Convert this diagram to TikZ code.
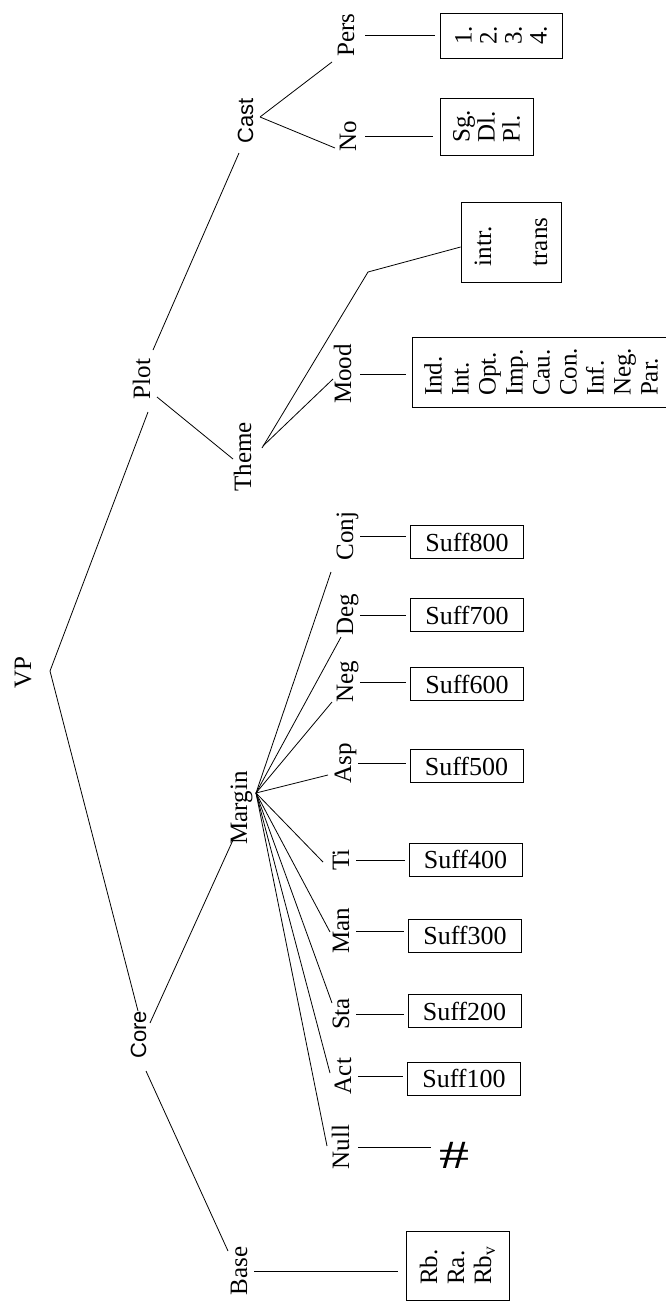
\documentclass[tikz,border=0pt]{standalone}
\usepackage{fontspec}
\usepackage{graphicx}
\setmainfont{Liberation Serif}
\newfontfamily\sansf{Liberation Sans}
\begin{document}
\begin{tikzpicture}[x=1pt,y=-1pt,
  lbl/.style={rotate=90, inner sep=2pt, text height=17pt, text depth=5pt, font=\fontsize{25}{25}\selectfont},
  lblsans/.style={lbl, font=\sansf\fontsize{22}{22}\selectfont},
  suff/.style={draw, line width=0.8pt, minimum width=113pt, minimum height=33pt, inner sep=0pt, font=\fontsize{26}{26}\selectfont},
  rbox/.style={draw, line width=0.8pt, rotate=90, inner sep=0pt, align=left},
  edge/.style={line width=0.8pt}]
\useasboundingbox (0,0) rectangle (666,1301);

% labels
\node[lbl] (vp) at (25,673) {VP};
\node[lbl] (plot) at (144,379) {Plot};
\node[lblsans] (core) at (140,1035) {Core};
\node[lblsans] (cast) at (247,121) {Cast};
\node[lbl] (theme) at (245,457) {Theme};
\node[lbl] (margin) at (241,808) {Margin};
\node[lbl] (base) at (241,1271) {Base};
\node[lbl] (pers) at (348,35) {Pers};
\node[lbl] (no) at (350,136) {No};
\node[lbl] (mood) at (345,374) {Mood};
\node[lbl] (conj) at (347,536) {Conj};
\node[lbl] (deg) at (347,615) {Deg};
\node[lbl] (neg) at (347,682) {Neg};
\node[lbl] (asp) at (345,763) {Asp};
\node[lbl] (ti) at (343,860) {Ti};
\node[lbl] (man) at (343,931) {Man};
\node[lbl] (sta) at (343,1014) {Sta};
\node[lbl] (act) at (345,1076) {Act};
\node[lbl] (null) at (343,1147) {Null};

% boxes
\node[rbox, minimum width=45pt, minimum height=122pt, font=\fontsize{25}{25}\selectfont] (persbox) at (501,35.5) {1.\\2.\\3.\\4.};
\node[rbox, minimum width=57pt, minimum height=93pt, font=\fontsize{25}{25}\selectfont] (nobox) at (486.5,126.5) {Sg.\\Dl.\\Pl.};
\node[rbox, minimum width=80pt, minimum height=100pt, font=\fontsize{25}{56}\selectfont] (trbox) at (511,242) {intr.\\trans};
\node[rbox, minimum width=70pt, minimum height=258pt, font=\fontsize{25}{27}\selectfont] (moodbox) at (541,372) {Ind.\\Int.\\Opt.\\Imp.\\Cau.\\Con.\\Inf.\\Neg.\\Par.};
\node[rbox, minimum width=69pt, minimum height=103pt, font=\fontsize{25}{27}\selectfont] (rbbox) at (457.5,1265.5) {Rb.\\Ra.\\Rb\textsubscript{v}};
\node[suff] (s800) at (467,542) {Suff800};
\node[suff] (s700) at (467,615) {Suff700};
\node[suff] (s600) at (467,684) {Suff600};
\node[suff] (s500) at (466.5,766) {Suff500};
\node[suff] (s400) at (465.5,859.5) {Suff400};
\node[suff] (s300) at (465,935.5) {Suff300};
\node[suff] (s200) at (464.5,1011) {Suff200};
\node[suff] (s100) at (464,1078.5) {Suff100};
\node[inner sep=0pt, font=\fontsize{40}{40}\selectfont] (hash) at (454,1155) {\scalebox{1.5}[1]{\#}};

% junctions
\coordinate (vpj) at ([shift={(25,-2)}]vp.center);
\coordinate (castj) at ([shift={(13,-4)}]cast.center);
\coordinate (themej) at ([shift={(18,-11)}]theme.center);
\coordinate (mj) at ([shift={(15,-15)}]margin.center);
\coordinate (bend) at (368,272);

% tree edges
\draw[edge] (vpj) -- ([shift={(4,33)}]plot.center);
\draw[edge] (vpj) -- ([shift={(-2,-24)}]core.center);
\draw[edge] ([shift={(9,-29)}]plot.center) -- ([shift={(-8,32)}]cast.center);
\draw[edge] ([shift={(13,18)}]plot.center) -- ([shift={(-12,2)}]theme.center);
\draw[edge] (castj) -- ([shift={(-16,27)}]pers.center);
\draw[edge] (castj) -- ([shift={(-15,12)}]no.center);
\draw[edge] (themej) -- ([shift={(-12,5)}]mood.center);
\draw[edge] ([shift={(-1,2)}]themej) -- (bend) -- ([shift={(0,5)}]trbox.north);
\draw[edge] ([shift={(10,-12)}]core.center) -- ([shift={(-8,32)}]margin.center);
\draw[edge] ([shift={(6,36)}]core.center) -- ([shift={(-13,-20)}]base.center);
\foreach \n/\dx/\dy in {conj/-16/36, deg/-6/22, neg/-15/20, asp/-17/12, ti/-20/2, man/-13/1, sta/-11/-11, act/-15/-3, null/-16/-1}
  \draw[edge] (mj) -- ([shift={(\dx,\dy)}]\n.center);

% horizontal links
\draw[edge, shorten <=4pt, shorten >=5pt] (pers.south) -- (pers.south -| persbox.north);
\draw[edge, shorten <=2pt, shorten >=7pt] (no.south) -- (no.south -| nobox.north);
\draw[edge, shorten <=2pt, shorten >=6pt] (mood.south) -- (mood.south -| moodbox.north);
\draw[edge, shorten >=8pt] (base.south) -- (base.south -| rbbox.north);
\foreach \a/\b in {conj/s800, deg/s700, neg/s600, asp/s500, ti/s400, man/s300, sta/s200, act/s100}
  \draw[edge, shorten >=4pt] (\a.south) -- (\a.south -| \b.west);
\draw[edge, shorten <=2pt, shorten >=8pt] (null.south) -- (null.south -| hash.west);
\end{tikzpicture}
\end{document}
